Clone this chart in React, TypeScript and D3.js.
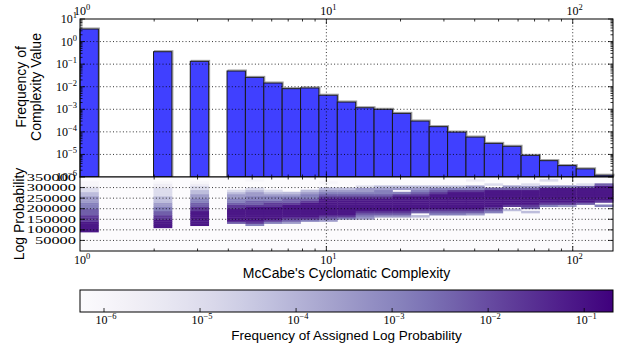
import React from "react";
import * as d3 from "d3";

// ---------- data ----------
const nBins = 29;
const xMax = 145.7;
const barFreq = [
  3.6, 0, 0, 0, 0.356, 0, 0.133, 0, 0.0497, 0.026, 0.0146, 0.0082, 0.0088, 0.0042,
  0.0021, 0.00117, 0.001, 0.00066, 0.000302, 0.00017, 9.8e-5, 5.9e-5, 3.1e-5, 2.3e-5,
  9.1e-6, 5.3e-6, 3.2e-6, 2.3e-6, 1.2e-6,
];
const yDecades = [-6, -5, -4, -3, -2, -1, 0, 1];
const xDecades = [0, 1, 2];
const probTicks = [50000, 100000, 150000, 200000, 250000, 300000, 350000];
const probMax = 350000;
const probStep = 10000;
const heatCols = [0, 4, 6, 8, 9, 10, 11, 12, 13, 14, 15, 16, 17, 18, 19, 20, 21, 22, 23, 24, 25, 26, 27, 28];
const heatStart = [9, 11, 12, 13, 12, 13, 13, 14, 14, 15, 15, 16, 16, 16, 17, 17, 17, 18, 19, 18, 21, 21, 22, 21];
const heatLevels = [
  "999998887776665554433211",
  "9999887766554443333221",
  "999999988776655443321",
  "7999999887665543",
  "6899999998776655430001",
  "6899999988766543",
  "578999999877654",
  "689999999876654",
  "5789999999987654001",
  "689999999987654",
  "5678999999876553",
  "578999999876654",
  "578999999986054",
  "407899999987654",
  "67899999998764",
  "67899999999864",
  "57899999999865002",
  "67899999999703",
  "408999999975",
  "40789999999753",
  "6899999996003",
  "5899999996",
  "7999999973",
  "60899999997",
];
const levelLogFreq = [-6.0, -5.6, -5.0, -4.2, -3.5, -2.9, -2.3, -1.7, -1.1];
const cbarDecades = [-6, -5, -4, -3, -2, -1];
const cbarLogMin = -6.25;
const cbarLogMax = -0.7;

const SERIF = "'Liberation Serif', 'Times New Roman', serif";
const SANS = "'Liberation Sans', Arial, Helvetica, sans-serif";

function Pow({ x, y, exp, anchor }: { x: number; y: number; exp: number; anchor: string }) {
  const e = exp < 0 ? "\u2212" + -exp : String(exp);
  return (
    <text x={x} y={y} textAnchor={anchor} fontFamily={SERIF} fontSize={12} fill="#000">
      10
      <tspan dy={-5} fontSize={8.5}>
        {e}
      </tspan>
    </text>
  );
}

export default function App() {
  const left = 80,
    right = 613;
  const tY0 = 19,
    tY1 = 177;
  const bY0 = 177,
    bY1 = 251;
  const cbY0 = 290,
    cbY1 = 312;

  const x = d3.scaleLog().domain([1, xMax]).range([left, right]);
  const yTop = d3.scaleLog().domain([1e-6, 10]).range([tY1, tY0]);
  const yBot = d3.scaleLinear().domain([0, probMax]).range([bY1, bY0]);
  const cbX = d3.scaleLinear().domain([cbarLogMin, cbarLogMax]).range([left, right]);
  const color = (lg: number) => d3.interpolatePurples((lg - cbarLogMin) / (cbarLogMax - cbarLogMin));

  const edges = d3.range(nBins + 1).map((i) => Math.pow(xMax, i / nBins));

  const xMinor: number[] = [];
  xDecades.forEach((k) => {
    for (let d = 2; d <= 9; d++) {
      const v = d * Math.pow(10, k);
      if (v < xMax) xMinor.push(v);
    }
  });
  const xMajor = xDecades.map((k) => Math.pow(10, k)).filter((v) => v > 1 && v < xMax);
  const yMinor: number[] = [];
  yDecades.slice(0, -1).forEach((k) => {
    for (let d = 2; d <= 9; d++) yMinor.push(d * Math.pow(10, k));
  });

  const grid = { stroke: "#000", strokeWidth: 0.8, strokeDasharray: "1,2.3" };
  const tk = { stroke: "#000", strokeWidth: 0.8 };

  const xTicks = (yA: number, yB: number, key: string) => (
    <g key={key}>
      {xMajor.map((v, i) => (
        <g key={"M" + i}>
          <line x1={x(v)} x2={x(v)} y1={yA} y2={yA + 5} {...tk} />
          <line x1={x(v)} x2={x(v)} y1={yB} y2={yB - 5} {...tk} />
        </g>
      ))}
      {xMinor.map((v, i) => (
        <g key={"m" + i}>
          <line x1={x(v)} x2={x(v)} y1={yA} y2={yA + 2.5} {...tk} />
          <line x1={x(v)} x2={x(v)} y1={yB} y2={yB - 2.5} {...tk} />
        </g>
      ))}
    </g>
  );

  const cbStops = d3.range(0, 1.0001, 0.05);

  return (
    <div style={{ position: "fixed", left: 0, top: 0 }}>
      <svg width={623} height={346} style={{ display: "block", background: "#fff" }}>
        <defs>
          <linearGradient id="cbGrad" x1="0" x2="1" y1="0" y2="0">
            {cbStops.map((t, i) => (
              <stop key={i} offset={t} stopColor={d3.interpolatePurples(t)} />
            ))}
          </linearGradient>
        </defs>

        {/* ---------- top panel ---------- */}
        {barFreq.map((v, i) =>
          v > 0 ? (
            <g key={"b" + i}>
              <rect
                x={x(edges[i]) + 1}
                y={yTop(v) - 1}
                width={x(edges[i + 1]) - x(edges[i])}
                height={tY1 - yTop(v)}
                fill="none"
                stroke="#9a9a9a"
                strokeWidth={1}
              />
              <rect
                x={x(edges[i])}
                y={yTop(v)}
                width={x(edges[i + 1]) - x(edges[i])}
                height={tY1 - yTop(v)}
                fill="#4040ff"
                stroke="#1a1a1a"
                strokeWidth={1}
              />
            </g>
          ) : null
        )}
        {yDecades.slice(1, -1).map((k) => (
          <line key={"gy" + k} x1={left} x2={right} y1={yTop(Math.pow(10, k))} y2={yTop(Math.pow(10, k))} {...grid} />
        ))}
        {xMajor.map((v) => (
          <line key={"gx" + v} x1={x(v)} x2={x(v)} y1={tY0} y2={tY1} {...grid} />
        ))}
        {xTicks(tY0, tY1, "tx")}
        {yDecades.map((k) => (
          <g key={"ty" + k}>
            <line x1={left} x2={left + 5} y1={yTop(Math.pow(10, k))} y2={yTop(Math.pow(10, k))} {...tk} />
            <line x1={right} x2={right - 5} y1={yTop(Math.pow(10, k))} y2={yTop(Math.pow(10, k))} {...tk} />
          </g>
        ))}
        {yMinor.map((v, i) => (
          <g key={"tym" + i}>
            <line x1={left} x2={left + 2.5} y1={yTop(v)} y2={yTop(v)} {...tk} />
            <line x1={right} x2={right - 2.5} y1={yTop(v)} y2={yTop(v)} {...tk} />
          </g>
        ))}
        <rect x={left} y={tY0} width={right - left} height={tY1 - tY0} fill="none" stroke="#000" strokeWidth={1} />
        {yDecades.map((k) => (
          <Pow key={"ly" + k} x={77} y={yTop(Math.pow(10, k)) + 4} exp={k} anchor="end" />
        ))}
        {xDecades.map((k) => (
          <Pow key={"lxt" + k} x={x(Math.pow(10, k)) + 2} y={15} exp={k} anchor="middle" />
        ))}
        <text
          transform={`translate(26,87) rotate(-90)`}
          textAnchor="middle"
          fontFamily={SANS}
          fontSize={14}
          fill="#000"
        >
          Frequency of
        </text>
        <text
          transform={`translate(41,87) rotate(-90)`}
          textAnchor="middle"
          fontFamily={SANS}
          fontSize={14}
          fill="#000"
        >
          Complexity Value
        </text>

        {/* ---------- bottom panel ---------- */}
        <rect x={left} y={bY0} width={right - left} height={bY1 - bY0} fill={d3.interpolatePurples(0)} />
        {heatCols.map((xb, ci) => {
          const x0 = x(edges[xb]);
          const x1 = x(edges[xb + 1]);
          return heatLevels[ci].split("").map((ch, j) => {
            const lv = +ch;
            if (lv === 0) return null;
            const b = heatStart[ci] + j;
            const yA = yBot((b + 1) * probStep);
            const yB = yBot(b * probStep);
            return (
              <rect
                key={"h" + ci + "_" + j}
                x={x0}
                y={yA}
                width={x1 - x0 + 0.4}
                height={yB - yA + 0.4}
                fill={color(levelLogFreq[lv - 1])}
              />
            );
          });
        })}
        {probTicks.slice(0, -1).map((v) => (
          <line key={"gp" + v} x1={left} x2={right} y1={yBot(v)} y2={yBot(v)} {...grid} />
        ))}
        {xMajor.map((v) => (
          <line key={"gbx" + v} x1={x(v)} x2={x(v)} y1={bY0} y2={bY1} {...grid} />
        ))}
        {xTicks(bY0, bY1, "bx")}
        {probTicks.map((v) => (
          <g key={"tp" + v}>
            <line x1={left} x2={left + 5} y1={yBot(v)} y2={yBot(v)} {...tk} />
            <line x1={right} x2={right - 5} y1={yBot(v)} y2={yBot(v)} {...tk} />
          </g>
        ))}
        <rect x={left} y={bY0} width={right - left} height={bY1 - bY0} fill="none" stroke="#000" strokeWidth={1} />
        {probTicks.map((v) => (
          <text
            key={"lp" + v}
            x={76}
            y={yBot(v) + 3.5}
            textAnchor="end"
            fontFamily={SERIF}
            fontSize={10.5}
            textLength={String(v).length * 8.2}
            lengthAdjust="spacingAndGlyphs"
            fill="#000"
          >
            {v}
          </text>
        ))}
        {xDecades.map((k) => (
          <Pow key={"lxb" + k} x={x(Math.pow(10, k)) + 2} y={264} exp={k} anchor="middle" />
        ))}
        <text
          transform={`translate(24,214) rotate(-90)`}
          textAnchor="middle"
          fontFamily={SANS}
          fontSize={14}
          fill="#000"
        >
          Log Probability
        </text>
        <text x={(left + right) / 2} y={278} textAnchor="middle" fontFamily={SANS} fontSize={14} fill="#000">
          McCabe's Cyclomatic Complexity
        </text>

        {/* ---------- colorbar ---------- */}
        <rect x={left} y={cbY0} width={right - left} height={cbY1 - cbY0} fill="url(#cbGrad)" />
        <rect x={left} y={cbY0} width={right - left} height={cbY1 - cbY0} fill="none" stroke="#000" strokeWidth={1} />
        {cbarDecades.map((k) => (
          <g key={"cb" + k}>
            <line x1={cbX(k)} x2={cbX(k)} y1={cbY1} y2={cbY1 - 4} {...tk} />
            <Pow x={cbX(k) + 2} y={324} exp={k} anchor="middle" />
          </g>
        ))}
        <text x={(left + right) / 2} y={340} textAnchor="middle" fontFamily={SANS} fontSize={13.5} fill="#000">
          Frequency of Assigned Log Probability
        </text>
      </svg>
    </div>
  );
}
